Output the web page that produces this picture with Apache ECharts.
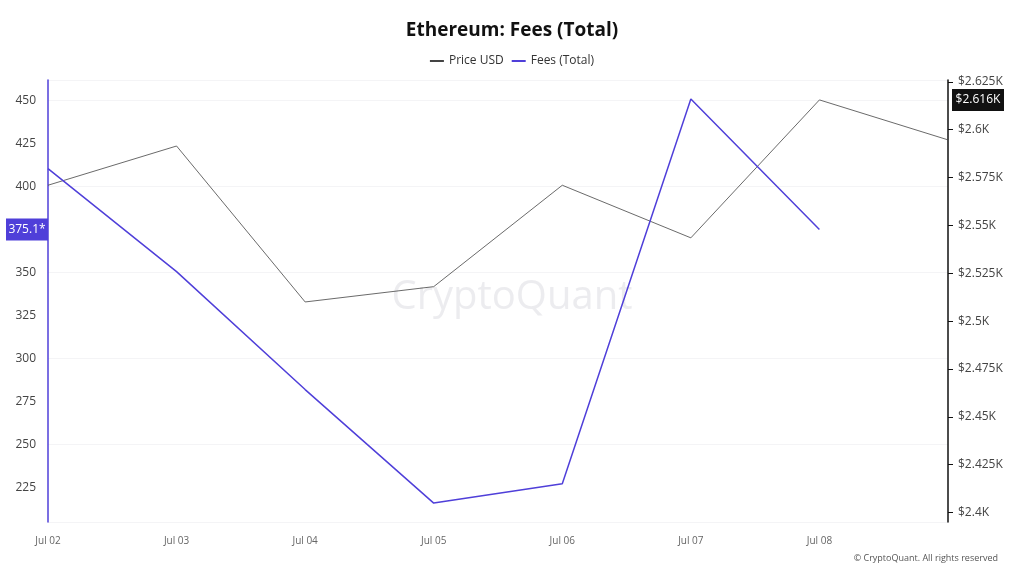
<!DOCTYPE html>
<html>
<head>
<meta charset="utf-8">
<script src="https://cdn.jsdelivr.net/npm/echarts@6/dist/echarts.min.js"></script>
<style>
  html, body { margin: 0; padding: 0; background: #fff; }
  #chart { width: 1024px; height: 576px; }
</style>
</head>
<body>
<div id="chart"></div>
<script>
// 数据
const dates = ['Jul 02', 'Jul 03', 'Jul 04', 'Jul 05', 'Jul 06', 'Jul 07', 'Jul 08', 'Jul 09'];
const priceUsd = [2571, 2591.5, 2510, 2518, 2571, 2543.5, 2615.6, 2594.7];
const feesTotal = [410.5, 350.6, 282, 216, 227.3, 451, 375.1, '-'];
const feeTicks = [225, 250, 275, 300, 325, 350, 375, 400, 425, 450];
const priceTicks = [2400, 2425, 2450, 2475, 2500, 2525, 2550, 2575, 2600, 2625];

const chart = echarts.init(document.getElementById('chart'));
const font = 'Open Sans';

chart.setOption({
    textStyle: { fontFamily: font },
    title: {
        text: 'Ethereum: Fees (Total)',
        left: 'center',
        top: 16,
        textStyle: { fontSize: 19, fontWeight: 'bold', color: '#111', fontFamily: font }
    },
    legend: {
        top: 50,
        left: 'center',
        itemWidth: 14,
        itemHeight: 2,
        icon: 'rect',
        textStyle: { color: '#333', fontSize: 12 },
        data: ['Price USD', 'Fees (Total)']
    },
    graphic: [
        {
            type: 'text',
            left: 'center',
            top: 278,
            style: { text: 'CryptoQuant', fontSize: 40, fill: 'rgba(200,200,210,0.35)', fontFamily: font }
        },
        {
            type: 'text',
            right: 26,
            top: 554,
            style: { text: '© CryptoQuant. All rights reserved', fontSize: 9, fill: '#555', fontFamily: font }
        }
    ],
    grid: { left: 48, right: 76, top: 80, bottom: 54 },
    xAxis: {
        type: 'category',
        boundaryGap: false,
        data: dates,
        axisLine: { show: false },
        axisTick: { show: false },
        axisLabel: {
            color: '#666', fontSize: 10, margin: 14,
            formatter: (v, i) => (i === dates.length - 1 ? '' : v)
        }
    },
    yAxis: [
        {
            type: 'value',
            min: 205,
            max: 462,
            axisLine: { show: true, lineStyle: { color: '#4f3fd9', width: 1.5 } },
            axisTick: { show: false },
            axisLabel: { color: '#444', fontSize: 12, margin: 12, customValues: feeTicks },
            splitLine: { show: true, lineStyle: { color: '#f4f4f6', width: 1 } }
        },
        {
            type: 'value',
            min: 2395,
            max: 2626,
            position: 'right',
            axisLine: { show: true, lineStyle: { color: '#111', width: 1.5 } },
            axisTick: { show: true, length: 5, customValues: priceTicks },
            axisLabel: {
                color: '#444', fontSize: 12, margin: 10, customValues: priceTicks,
                formatter: v => '$' + parseFloat((v / 1000).toFixed(3)) + 'K'
            },
            splitLine: { show: false }
        }
    ],
    series: [
        {
            name: 'Price USD',
            type: 'line',
            yAxisIndex: 1,
            data: priceUsd,
            symbol: 'none',
            lineStyle: { color: '#444', width: 0.8 },
            itemStyle: { color: '#444' },
            markPoint: {
                symbol: 'rect',
                symbolSize: [52, 22],
                symbolOffset: [30, 0],
                itemStyle: { color: '#111' },
                label: { color: '#fff', fontSize: 12, formatter: '$2.616K' },
                data: [{ coord: ['Jul 09', 2615.6] }]
            }
        },
        {
            name: 'Fees (Total)',
            type: 'line',
            yAxisIndex: 0,
            data: feesTotal,
            symbol: 'none',
            lineStyle: { color: '#4f3fd9', width: 1.5 },
            itemStyle: { color: '#4f3fd9' },
            markPoint: {
                symbol: 'rect',
                symbolSize: [42, 22],
                symbolOffset: [-21, 0],
                itemStyle: { color: '#4f3fd9' },
                label: { color: '#fff', fontSize: 12, formatter: '375.1*' },
                data: [{ coord: ['Jul 02', 375.1] }]
            }
        }
    ]
});
</script>
</body>
</html>
